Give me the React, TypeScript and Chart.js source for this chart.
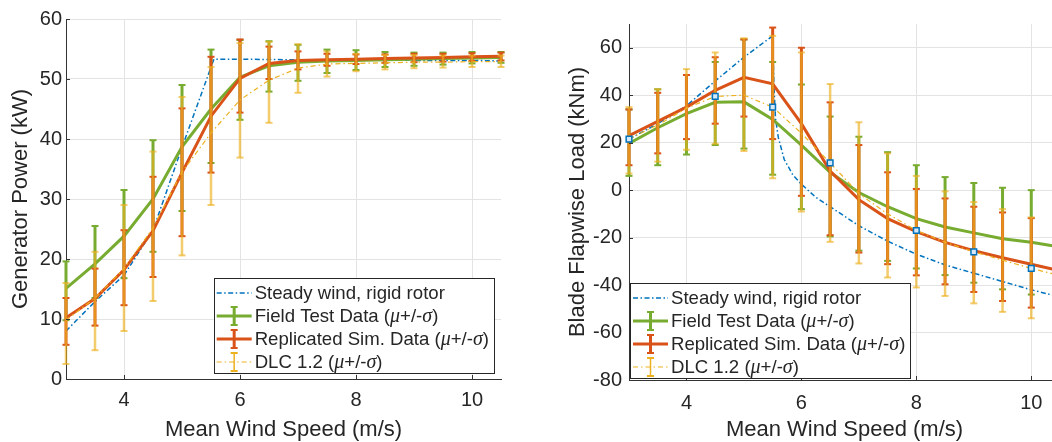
import React, { useEffect, useRef } from "react";
import { Chart, registerables } from "chart.js";

Chart.register(...registerables);

// ---------- data ----------
const windSpeeds = [3, 3.5, 4, 4.5, 5, 5.5, 6, 6.5, 7, 7.5, 8, 8.5, 9, 9.5, 10, 10.5];
const speedTicks = [4, 6, 8, 10];

// Generator power (kW)
const powerTicks = [0, 10, 20, 30, 40, 50, 60];
const powerSteadySpeeds = [3, 3.5, 4, 4.5, 5, 5.55, 6, 7, 8, 9, 10, 10.5];
const powerSteady = [8.0, 12.9, 17.3, 24.8, 38.6, 53.3, 53.3, 53.2, 53.2, 53.1, 53.1, 53.0];
const powerField = [15.1, 19.2, 23.8, 30.0, 38.7, 45.0, 50.3, 52.2, 52.8, 53.0, 53.1, 53.2, 53.3, 53.4, 53.5, 53.6];
const powerFieldHi = [19.6, 25.5, 31.5, 39.8, 49.0, 54.9, 56.5, 56.3, 55.7, 54.9, 54.8, 54.5, 54.4, 54.4, 54.5, 54.5];
const powerFieldLo = [9.8, 13.5, 16.8, 21.2, 28.0, 36.0, 43.2, 47.9, 49.7, 51.0, 51.5, 52.0, 52.2, 52.4, 52.6, 52.7];
const powerSim = [10.2, 13.4, 18.2, 24.7, 34.4, 43.8, 50.1, 52.6, 53.1, 53.2, 53.3, 53.4, 53.5, 53.6, 53.7, 53.8];
const powerSimHi = [13.5, 18.4, 24.8, 33.7, 45.1, 53.7, 56.6, 55.4, 54.6, 54.2, 54.1, 54.1, 54.2, 54.2, 54.3, 54.4];
const powerSimLo = [5.7, 8.9, 12.3, 17.0, 23.8, 34.4, 44.4, 50.0, 51.6, 52.2, 52.5, 52.7, 52.8, 52.9, 53.0, 53.1];
const powerDlc = [9.8, 13.5, 18.4, 25.2, 34.5, 41.0, 46.5, 49.8, 51.8, 52.5, 52.6, 52.7, 52.8, 52.8, 52.9, 52.9];
const powerDlcHi = [16.0, 21.2, 29.0, 37.9, 47.0, 52.0, 56.0, 56.2, 55.8, 54.6, 54.2, 54.0, 54.0, 53.9, 53.9, 53.9];
const powerDlcLo = [2.5, 4.8, 8.0, 13.0, 20.6, 29.0, 36.9, 42.7, 47.7, 50.4, 51.3, 51.6, 51.8, 51.9, 52.0, 52.0];

// Blade flapwise load (kNm)
const loadTicks = [-80, -60, -40, -20, 0, 20, 40, 60];
const loadSteadySpeeds = [3, 3.5, 4, 4.5, 5, 5.5, 5.52, 5.55, 5.6, 5.7, 5.85, 6, 6.25, 6.5, 7, 7.5, 8, 8.5, 9, 9.5, 10, 10.5];
const loadSteady = [21.5, 28, 35.5, 46, 56, 65, 45, 30, 22, 13, 6.5, 2.5, -3, -7, -15, -21.5, -27, -31.5, -35, -38.5, -42, -45];
const loadField = [19.7, 26.3, 32.2, 37.0, 37.2, 29.8, 19.0, 7.5, -1.0, -7.0, -12.0, -15.5, -18.0, -20.5, -22.0, -24.0];
const loadFieldHi = [34, 42.5, 48.5, 54, 63.5, 54, 44.5, 31, 22.5, 16, 10.5, 5.5, 3, 1, 0, -1];
const loadFieldLo = [6, 10.5, 15, 19, 17.5, 6.5, -8, -19.5, -25.5, -29.8, -33, -35.8, -39, -41.8, -44, -45];
const loadSim = [22.9, 29.0, 35.0, 42.0, 47.5, 44.8, 28.0, 8.0, -4.0, -12.0, -17.5, -22.0, -25.5, -28.5, -31.2, -34.0];
const loadSimHi = [34, 41, 48.5, 56, 63.5, 68.5, 60, 37, 19, 7.5, 0.5, -3.5, -7, -9.4, -11.8, -14];
const loadSimLo = [10.5, 15.5, 21.5, 28, 31, 21.5, -2.4, -19, -26.3, -31.2, -35.9, -39.7, -42.9, -46.7, -49.5, -52];
const loadDlc = [21.5, 27.5, 34.5, 39.5, 40.0, 35.0, 24.0, 11.5, -1.5, -10.0, -17.0, -22.0, -26.0, -29.5, -33.0, -36.0];
const loadDlcHi = [35, 42.5, 51, 58, 64, 65, 58, 44.7, 28.6, 15.5, 6, -0.5, -5, -8, -11.5, -14];
const loadDlcLo = [7, 12, 17, 19.5, 16.5, 5, -9, -21.8, -30.9, -36.8, -41, -44.6, -47.7, -51.3, -54, -56];
const loadMarkerSpeeds = [3, 4.5, 5.5, 6.5, 8, 9, 10];
const loadMarkers = [21.5, 39.5, 35.0, 11.5, -17.0, -26.0, -33.0];

const legendLabels = ["Steady wind, rigid rotor", "Field Test Data", "Replicated Sim. Data", "DLC 1.2"];

// ---------- styles ----------
const BLUE = "#0072BD";
const GREEN = "#77AC30";
const ORANGE = "#D95319";
const YELLOW = "#EDB120";
const YELLOW_BAR = "rgba(237,177,32,0.65)";
const TEXT = "#262626";
const AXIS = "#333333";
const SANS = "'Liberation Sans', Arial, Helvetica, sans-serif";
const SERIF = "'Liberation Serif', 'Times New Roman', serif";
const STEADY_DASH = [5, 2.5, 1.5, 2.5];
const DLC_DASH = [5, 3, 1.5, 3];

Chart.defaults.font.family = SANS;
Chart.defaults.color = TEXT;

const pts = (xs: number[], ys: number[]) => xs.map((x, i) => ({ x, y: ys[i] }));
const bars = (xs: number[], lo: number[], hi: number[]) =>
  xs.flatMap((x, i) => [{ x, y: lo[i] }, { x, y: hi[i] }, { x, y: null as any }]);

function lineDs(label: string, data: any[], color: string, width: number, dash: number[], order: number) {
  return {
    label,
    data,
    borderColor: color,
    backgroundColor: color,
    borderWidth: width,
    borderDash: dash,
    pointRadius: 0,
    fill: false,
    tension: 0,
    order,
  };
}

function barDs(data: any[], color: string, width: number, order: number) {
  return {
    label: "_bars",
    data,
    borderColor: color,
    backgroundColor: color,
    borderWidth: width,
    pointStyle: "line",
    pointRadius: 3.5,
    pointBorderWidth: 2,
    pointBorderColor: color,
    spanGaps: false,
    fill: false,
    clip: false,
    order,
  };
}

// ---------- inward tick marks (MATLAB style) ----------
const innerTicks = {
  id: "innerTicks",
  afterDatasetsDraw(chart: any) {
    const { ctx, chartArea, scales } = chart;
    ctx.save();
    ctx.strokeStyle = AXIS;
    ctx.lineWidth = 1;
    ctx.beginPath();
    scales.x.ticks.forEach((t: any) => {
      const px = Math.round(scales.x.getPixelForValue(t.value)) + 0.5;
      ctx.moveTo(px, chartArea.bottom);
      ctx.lineTo(px, chartArea.bottom - 4);
    });
    scales.y.ticks.forEach((t: any) => {
      const py = Math.round(scales.y.getPixelForValue(t.value)) + 0.5;
      ctx.moveTo(chartArea.left, py);
      ctx.lineTo(chartArea.left + 4, py);
    });
    ctx.stroke();
    ctx.restore();
  },
};

// ---------- boxed legend drawn inside the plot ----------
const boxLegend = {
  id: "boxLegend",
  afterDraw(chart: any, _args: any, opts: any) {
    const { ctx, chartArea } = chart;
    const sansF = `18.6px ${SANS}`;
    const serifF = `italic 20px ${SERIF}`;
    const rows = legendLabels.map((lab, i) =>
      i === 0
        ? [{ t: lab, f: sansF }]
        : [
            { t: lab + " (", f: sansF },
            { t: "\u03bc", f: serifF },
            { t: "+/-", f: sansF },
            { t: "\u03c3", f: serifF },
            { t: ")", f: sansF },
          ]
    );
    ctx.save();
    const widths = rows.map((segs) =>
      segs.reduce((w, s) => {
        ctx.font = s.f;
        return w + ctx.measureText(s.t).width;
      }, 0)
    );
    const boxW = 41 + Math.max(...widths) + 5;
    const boxH = 95;
    const left = opts.anchor === "right" ? chartArea.right - opts.dx - boxW : chartArea.left + opts.dx;
    const top = chartArea.bottom - opts.dy - boxH;
    ctx.fillStyle = "#ffffff";
    ctx.fillRect(left, top, boxW, boxH);
    ctx.strokeStyle = "#262626";
    ctx.lineWidth = 1;
    ctx.setLineDash([]);
    ctx.strokeRect(Math.round(left) + 0.5, Math.round(top) + 0.5, Math.round(boxW), Math.round(boxH));

    const styles = [
      { c: BLUE, w: 1.5, d: STEADY_DASH, bar: false, bw: 0 },
      { c: GREEN, w: 3, d: [], bar: true, bw: 3 },
      { c: ORANGE, w: 3, d: [], bar: true, bw: 3 },
      { c: YELLOW, w: 1.2, d: DLC_DASH, bar: true, bw: 1.5 },
    ];
    rows.forEach((segs, i) => {
      const y = top + 15 + 23 * i;
      const st = styles[i];
      const x0 = left + 3;
      const x1 = left + 38;
      ctx.strokeStyle = st.c;
      ctx.lineWidth = st.w;
      ctx.setLineDash(st.d);
      ctx.beginPath();
      ctx.moveTo(x0, y);
      ctx.lineTo(x1, y);
      ctx.stroke();
      if (st.bar) {
        const xm = (x0 + x1) / 2;
        ctx.setLineDash([]);
        ctx.lineWidth = st.bw;
        ctx.beginPath();
        ctx.moveTo(xm, y - 9);
        ctx.lineTo(xm, y + 9);
        ctx.stroke();
        ctx.lineWidth = 2;
        ctx.beginPath();
        ctx.moveTo(xm - 3.5, y - 9);
        ctx.lineTo(xm + 3.5, y - 9);
        ctx.moveTo(xm - 3.5, y + 9);
        ctx.lineTo(xm + 3.5, y + 9);
        ctx.stroke();
      }
      ctx.setLineDash([]);
      ctx.fillStyle = TEXT;
      ctx.textBaseline = "middle";
      ctx.textAlign = "left";
      let x = left + 41;
      segs.forEach((s) => {
        ctx.font = s.f;
        ctx.fillText(s.t, x, y + 1);
        x += ctx.measureText(s.t).width;
      });
    });
    ctx.restore();
  },
};

type PanelCfg = {
  steadyX: number[];
  steady: number[];
  field: number[];
  fieldLo: number[];
  fieldHi: number[];
  sim: number[];
  simLo: number[];
  simHi: number[];
  dlc: number[];
  dlcLo: number[];
  dlcHi: number[];
  markersX?: number[];
  markers?: number[];
  yTicks: number[];
  yMin: number;
  yMax: number;
  yTitle: string;
  padding: { left: number; right: number; top: number; bottom: number };
  yWidth: number;
  xHeight: number;
  yTickPad: number;
  xTickPad: number;
  legend: { anchor: string; dx: number; dy: number };
};

function makeConfig(p: PanelCfg): any {
  const datasets: any[] = [
    lineDs(legendLabels[0], pts(p.steadyX, p.steady), BLUE, 1.5, STEADY_DASH, 7),
    barDs(bars(windSpeeds, p.fieldLo, p.fieldHi), GREEN, 3, 5),
    lineDs(legendLabels[1], pts(windSpeeds, p.field), GREEN, 3, [], 6),
    barDs(bars(windSpeeds, p.simLo, p.simHi), ORANGE, 3, 3),
    lineDs(legendLabels[2], pts(windSpeeds, p.sim), ORANGE, 3, [], 4),
    barDs(bars(windSpeeds, p.dlcLo, p.dlcHi), YELLOW_BAR, 2.5, 1),
    lineDs(legendLabels[3], pts(windSpeeds, p.dlc), YELLOW, 1.2, DLC_DASH, 2),
  ];
  if (p.markersX && p.markers) {
    datasets.push({
      label: "_markers",
      data: pts(p.markersX, p.markers),
      showLine: false,
      pointStyle: "rect",
      pointRadius: 4,
      pointBorderWidth: 1.5,
      pointBorderColor: BLUE,
      pointBackgroundColor: "#d6e8f5",
      clip: false,
      order: 0,
    });
  }
  return {
    type: "line",
    data: { datasets },
    plugins: [innerTicks, boxLegend],
    options: {
      responsive: false,
      animation: false,
      devicePixelRatio: 1,
      layout: { padding: p.padding },
      plugins: {
        legend: { display: false },
        tooltip: { enabled: false },
        boxLegend: p.legend,
      },
      scales: {
        x: {
          type: "linear",
          min: 3,
          max: 10.5,
          afterBuildTicks: (s: any) => {
            s.ticks = speedTicks.map((v) => ({ value: v }));
          },
          afterFit: (s: any) => {
            s.height = p.xHeight;
          },
          grid: { color: "#e3e3e3", drawTicks: false, lineWidth: 1 },
          border: { display: true, color: AXIS, width: 1 },
          ticks: { font: { size: 20 }, color: TEXT, padding: p.xTickPad, maxRotation: 0 },
          title: { display: true, text: "Mean Wind Speed (m/s)", font: { size: 22 }, color: TEXT },
        },
        y: {
          type: "linear",
          min: p.yMin,
          max: p.yMax,
          afterBuildTicks: (s: any) => {
            s.ticks = p.yTicks.map((v) => ({ value: v }));
          },
          afterFit: (s: any) => {
            s.width = p.yWidth;
          },
          grid: { color: "#e3e3e3", drawTicks: false, lineWidth: 1 },
          border: { display: true, color: AXIS, width: 1 },
          ticks: { font: { size: 20 }, color: TEXT, padding: p.yTickPad },
          title: { display: true, text: p.yTitle, font: { size: 22 }, color: TEXT },
        },
      },
    },
  };
}

function Panel({ cfg, left, width, height }: { cfg: PanelCfg; left: number; width: number; height: number }) {
  const ref = useRef<HTMLCanvasElement | null>(null);
  useEffect(() => {
    if (!ref.current) return;
    const chart = new Chart(ref.current, makeConfig(cfg));
    return () => chart.destroy();
  }, []);
  return (
    <canvas
      ref={ref}
      width={width}
      height={height}
      style={{ position: "absolute", left, top: 0, width, height }}
    />
  );
}

const powerPanel: PanelCfg = {
  steadyX: powerSteadySpeeds,
  steady: powerSteady,
  field: powerField,
  fieldLo: powerFieldLo,
  fieldHi: powerFieldHi,
  sim: powerSim,
  simLo: powerSimLo,
  simHi: powerSimHi,
  dlc: powerDlc,
  dlcLo: powerDlcLo,
  dlcHi: powerDlcHi,
  yTicks: powerTicks,
  yMin: 0,
  yMax: 60,
  yTitle: "Generator Power (kW)",
  padding: { left: 4, right: 24, top: 19, bottom: 5 },
  yWidth: 62,
  xHeight: 68,
  yTickPad: 4,
  xTickPad: 9,
  legend: { anchor: "right", dx: 7, dy: 6 },
};

const loadPanel: PanelCfg = {
  steadyX: loadSteadySpeeds,
  steady: loadSteady,
  field: loadField,
  fieldLo: loadFieldLo,
  fieldHi: loadFieldHi,
  sim: loadSim,
  simLo: loadSimLo,
  simHi: loadSimHi,
  dlc: loadDlc,
  dlcLo: loadDlcLo,
  dlcHi: loadDlcHi,
  markersX: loadMarkerSpeeds,
  markers: loadMarkers,
  yTicks: loadTicks,
  yMin: -80,
  yMax: 70,
  yTitle: "Blade Flapwise Load (kNm)",
  padding: { left: 31, right: 10, top: 24, bottom: 5 },
  yWidth: 68,
  xHeight: 67,
  yTickPad: 7,
  xTickPad: 11,
  legend: { anchor: "left", dx: 1, dy: 2 },
};

export default function App() {
  return (
    <div
      style={{
        position: "fixed",
        left: 0,
        top: 0,
        width: 1052,
        height: 442,
        overflow: "hidden",
        background: "#ffffff",
      }}
    >
      <Panel cfg={powerPanel} left={0} width={525} height={452} />
      <Panel cfg={loadPanel} left={530} width={540} height={452} />
    </div>
  );
}
